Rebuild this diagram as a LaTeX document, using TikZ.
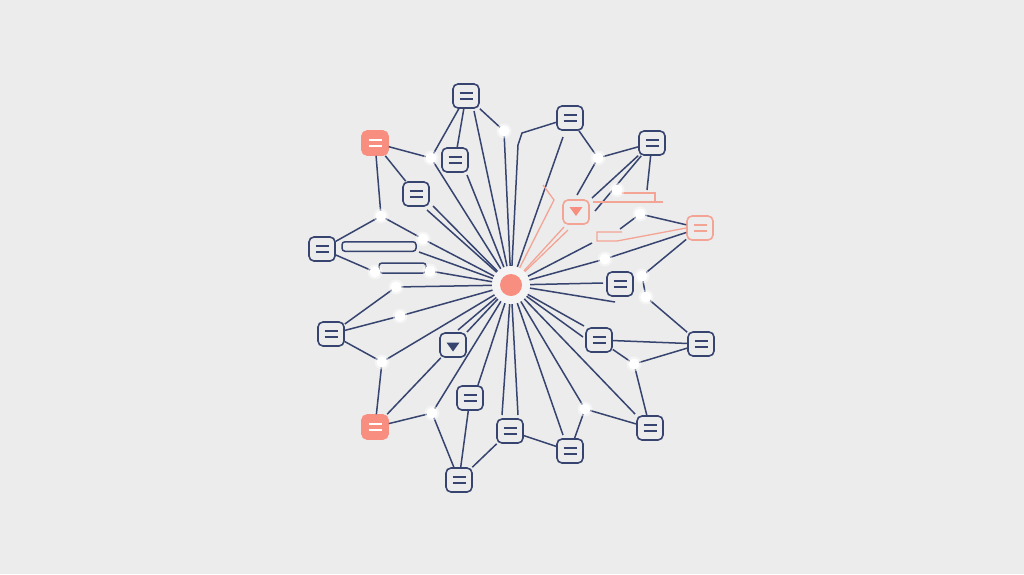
\documentclass[tikz,border=0pt]{standalone}
\usetikzlibrary{calc}
\definecolor{bg}{HTML}{ECECEC}
\definecolor{halo}{HTML}{F4F4F4}
\definecolor{navy}{HTML}{36446F}
\definecolor{sal}{HTML}{F78E80}
\definecolor{salo}{HTML}{F4A494}
\begin{document}
\begin{tikzpicture}[x=1pt,y=-1pt,
  edge/.style={navy,line width=1.5pt},
  sedge/.style={salo,line width=1.3pt},
  icon/.style={draw=navy,fill=bg,line width=1.6pt,rounded corners=5pt,minimum width=26pt,minimum height=24pt,inner sep=0pt},
  eq/.style={path picture={\draw[#1,line width=1.5pt,sharp corners] ([xshift=-6.5pt,yshift=2.8pt]path picture bounding box.center) -- ++(13pt,0pt) ([xshift=-6.5pt,yshift=-2.8pt]path picture bounding box.center) -- ++(13pt,0pt);}},
  tri/.style 2 args={path picture={\fill[#1,sharp corners] ([shift={(-6.5pt,#2)}]path picture bounding box.center) -- ++(13pt,0pt) -- ++(-6.5pt,-9pt) -- cycle;}},
  bar/.style={draw=navy,fill=bg,line width=1.5pt,rounded corners=3pt,inner sep=0pt},
  hubst/.style={circle,fill=halo,minimum size=38pt,inner sep=0pt}
]
\useasboundingbox[fill=bg] (0,0) rectangle (1024,574);

% hub
\node[hubst] (hub) at (511,285) {};
\fill[sal] (hub.center) circle (11pt);

% icons
\node[icon,eq=navy] (A) at (466,96) {};
\node[icon,eq=navy] (B) at (570,118) {};
\node[icon,eq=navy] (C) at (652,143) {};
\node[icon,eq=navy] (D) at (455,160) {};
\node[icon,eq=navy] (E) at (416,194) {};
\node[icon,eq=navy] (F) at (322,249) {};
\node[icon,eq=navy] (G) at (620,284) {};
\node[icon,eq=navy] (I) at (331,334) {};
\node[icon,eq=navy] (J) at (599,340) {};
\node[icon,eq=navy] (K) at (701,344) {};
\node[icon,eq=navy] (L) at (470,398) {};
\node[icon,eq=navy] (M) at (510,431) {};
\node[icon,eq=navy] (N) at (650,428) {};
\node[icon,eq=navy] (O) at (570,451) {};
\node[icon,eq=navy] (P) at (459,480) {};
\node[icon,fill=sal,draw=sal,eq=white] (S1) at (375,143) {};
\node[icon,fill=sal,draw=sal,eq=white] (S2) at (375,427) {};
\node[icon,draw=salo,eq=salo] (U) at (700,228) {};
\node[icon,draw=salo,tri={sal}{5pt}] (T) at (576,212) {};
\node[icon,tri={navy}{2.5pt}] (Q) at (453,345) {};
\node[bar,minimum width=74pt,minimum height=9.5pt] (bar1) at (379,246.5) {};
\node[bar,minimum width=47pt,minimum height=10pt] (bar2) at (402.5,268) {};

% dots (positions)
\foreach \n/\x/\y in {d1/504/131,d2/431/158,d3/381/216,d4/423/239,d5/375/272,d6/430/271,d7/396/287,d8/400/316,d9/382/362,d10/432/413,d11/598/158,d12/617/190,d13/640/214,d14/605/259,d15/642/276,d16/646/297,d17/634/364,d18/585/409}
  \coordinate (\n) at (\x,\y);

% free line ends
\foreach \n/\x/\y in {eA/474/111,eD/467/175,eE1/433/206,eE2/427/210,eB1/419/252,eQ1/458/330,eQ2/467/332,eL/478/385,eM1/502/415,eM2/518/415,eO/563/435,eN/635/414,eJ1/584/326,eJ2/583/337,eF/615/302,eG/603/283,eBr2/592/243,eB/563/137,k1/518/145,k2/522/133,s1/554/200,s0/543/185,eT1/564/227,eT2/568/230,eT/577/195,eC1/592/198,eC2/595/211,eC3/647/190,eBr2a/620/229}
  \coordinate (\n) at (\x,\y);

% hub spokes
\foreach \t in {eA,d1,d2,eD,eE1,eE2,d4,eB1,d6,d7,d8,d9,eQ1,eQ2,d10,eL,eM1,eM2,eO,d18,eN,eJ1,eJ2,eF,eG,d14,eBr2,eB,k1}
  \draw[edge] (hub) -- (\t);
\draw[edge] (k1) -- (k2) -- (B);

% salmon spokes
\draw[sedge] (hub) -- (s1) -- (s0);
\draw[sedge] (hub) -- (eT1);
\draw[sedge] (hub) -- (eT2);

% other connectors
\draw[edge] (A) -- (d1);
\draw[edge] (A) -- (d2);
\draw[edge] (A) -- (D);
\draw[edge] (S1) -- (d2);
\draw[edge] (S1) -- (E);
\draw[edge] (S1) -- (d3);
\draw[edge] (d3) -- (F);
\draw[edge] (d3) -- (d4);
\draw[edge] (F) -- (d5);
\draw[edge] (d7) -- (I);
\draw[edge] (I) -- (d8);
\draw[edge] (I) -- (d9);
\draw[edge] (d9) -- (S2);
\draw[edge] (Q) -- (S2);
\draw[edge] (d10) -- (S2);
\draw[edge] (d10) -- (P);
\draw[edge] (L) -- (P);
\draw[edge] (P) -- (M);
\draw[edge] (M) -- (O);
\draw[edge] (d18) -- (N);
\draw[edge] (d18) -- (O);
\draw[edge] (J) -- (K);
\draw[edge] (J) -- (d17);
\draw[edge] (d17) -- (K);
\draw[edge] (d17) -- (N);
\draw[edge] (d15) -- (d16);
\draw[edge] (d16) -- (K);
\draw[edge] (U) -- (d15);
\draw[edge] (U) -- (d14);
\draw[edge] (d13) -- (U);
\draw[edge] (d13) -- (eBr2a);
\draw[edge] (C) -- (eC1);
\draw[edge] (C) -- (eC2);
\draw[edge] (C) -- (eC3);
\draw[edge] (B) -- (d11);
\draw[edge] (d11) -- (C);
\draw[edge] (d11) -- (eT);

% salmon brackets
\draw[sedge] (622,193) -- (655,193) -- (655,202);
\draw[sedge] (593,202) -- (663,202);
\draw[sedge] (622,232) -- (597,232) -- (597,241) -- (617,241) -- (U.west);

% dots on top
\foreach \n in {d1,d2,d3,d4,d5,d6,d7,d8,d9,d10,d11,d12,d13,d14,d15,d16,d17,d18} {
  \fill[white,opacity=0.45] (\n) circle (7.5pt);
  \fill[white] (\n) circle (5.5pt);
}
\end{tikzpicture}
\end{document}
